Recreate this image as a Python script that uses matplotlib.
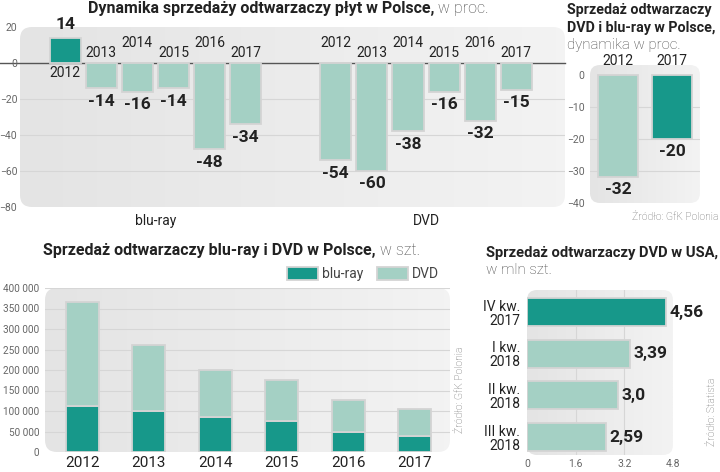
import numpy as np
import matplotlib
matplotlib.use('Agg')
from matplotlib import pyplot as plt
from matplotlib.patches import FancyBboxPatch, Patch

plt.rcParams['font.family'] = ['Roboto', 'DejaVu Sans']

# --- data ---
years = ['2012', '2013', '2014', '2015', '2016', '2017']
dyn_bluray = [14, -14, -16, -14, -48, -34]
dyn_dvd = [-54, -60, -38, -16, -32, -15]

dyn2_years = ['2012', '2017']
dyn2_values = [-32, -20]

sales_bluray = [112000, 100000, 85000, 76000, 50000, 38000]
sales_total = [366000, 260000, 201000, 175000, 128000, 106000]
sales_dvd = [t - b for t, b in zip(sales_total, sales_bluray)]

usa_labels = ['IV kw.\n2017', 'I kw.\n2018', 'II kw.\n2018', 'III kw.\n2018']
usa_values = [4.56, 3.39, 3.0, 2.59]
usa_text = ['4,56', '3,39', '3,0', '2,59']

DARK = '#17988a'
LIGHT = '#a4d0c4'
EDGE = '#d4d4d4'
TXT = '#222222'
TICK = '#666666'
W, H = 720, 472

fig = plt.figure(figsize=(7.2, 4.72), dpi=100)
fig.patch.set_facecolor('white')


def px_axes(x0, y0, x1, y1):
    return fig.add_axes([x0 / W, 1 - y1 / H, (x1 - x0) / W, (y1 - y0) / H])


def background(ax, wpx, hpx, r=12):
    # rounded grey box with a soft gradient
    box = FancyBboxPatch((0, 0), 1, 1, boxstyle='round,pad=0,rounding_size=%f' % (r / wpx),
                         mutation_aspect=wpx / hpx, transform=ax.transAxes,
                         facecolor='none', edgecolor='none', zorder=0)
    ax.add_patch(box)
    grad = np.linspace(0.0, 1.0, 64).reshape(1, -1)
    cm = matplotlib.colors.LinearSegmentedColormap.from_list('g', ['#e4e4e4', '#f3f3f3'])
    img = ax.imshow(grad, extent=(0, 1, 0, 1), transform=ax.transAxes, aspect='auto',
                    cmap=cm, zorder=0)
    img.set_clip_path(box)
    ax.set_facecolor('none')
    for s in ax.spines.values():
        s.set_visible(False)


def title2(x, y, bold, rest, size=11.5):
    t = fig.text(x / W, 1 - y / H, bold, fontsize=size, fontweight='bold', color=TXT,
                 ha='left', va='center')
    fig.canvas.draw()
    bb = t.get_window_extent()
    fig.text(bb.x1 / (fig.dpi * 7.2), 1 - y / H, rest, fontsize=size,
             color='#444444', ha='left', va='center', fontweight='light')


# ---------- top: dynamics ----------
ax1 = px_axes(20, 27, 565, 207)
background(ax1, 545, 180)
xb = np.arange(6)
xd = np.arange(6) + 7.5
ax1.set_xlim(-1.25, 13.85)
ax1.set_ylim(-80, 20)
for g in [-20, -40, -60]:
    ax1.axhline(g, color='#d6d6d6', lw=0.8, zorder=1)
ax1.axhline(0, color='#555555', lw=1.0, zorder=1, xmin=-0.04, clip_on=False)
cols_b = [DARK if v > 0 else LIGHT for v in dyn_bluray]
ax1.bar(xb, dyn_bluray, width=0.86, color=cols_b, edgecolor=EDGE, lw=1.3, zorder=2)
ax1.bar(xd, dyn_dvd, width=0.86, color=LIGHT, edgecolor=EDGE, lw=1.3, zorder=2)
for xs, vals in [(xb, dyn_bluray), (xd, dyn_dvd)]:
    for i, (x, v) in enumerate(zip(xs, vals)):
        if v > 0:
            ax1.text(x, v + 3, str(v), ha='center', va='bottom', fontsize=12.5,
                     fontweight='bold', color=TXT, zorder=3, clip_on=False)
            ax1.text(x, -5.5, years[i], ha='center', va='center', fontsize=10, color=TXT, zorder=3)
        else:
            ax1.text(x, v - 3, str(v), ha='center', va='top', fontsize=12.5,
                     fontweight='bold', color=TXT, zorder=3)
            yy = 11 if i % 2 == 0 else 5.5
            ax1.text(x, yy, years[i], ha='center', va='center', fontsize=10, color=TXT, zorder=3)
ax1.set_yticks([20, 0, -20, -40, -60, -80])
ax1.tick_params(axis='y', length=0, labelsize=7.5, labelcolor=TICK, pad=2)
ax1.set_xticks([xb.mean(), xd.mean()])
ax1.set_xticklabels(['blu-ray', 'DVD'])
ax1.tick_params(axis='x', length=0, labelsize=10, labelcolor=TXT, pad=5)

title2(88, 9, 'Dynamika sprzedaży odtwarzaczy płyt w Polsce,', ' w proc.')

# ---------- top right: 2012 vs 2017 ----------
ax2 = px_axes(590, 65, 700, 203)
background(ax2, 110, 138, r=10)
x2 = np.arange(2)
ax2.set_xlim(-0.52, 1.52)
ax2.set_ylim(-40, 3.1)
for g in [-10, -20, -30]:
    ax2.axhline(g, color='#d6d6d6', lw=0.8, zorder=1)
ax2.bar(x2, dyn2_values, width=0.74, color=[LIGHT, DARK], edgecolor=EDGE, lw=1.3, zorder=2)
for x, v, yr in zip(x2, dyn2_values, dyn2_years):
    ax2.text(x, v - 1.5, str(v), ha='center', va='top', fontsize=12.5, fontweight='bold',
             color=TXT, zorder=3)
    ax2.text(x, 4.2, yr, ha='center', va='center', fontsize=10, color=TXT, clip_on=False)
ax2.set_yticks([0, -10, -20, -30, -40])
ax2.set_xticks([])
ax2.tick_params(axis='y', length=0, labelsize=7.5, labelcolor=TICK, pad=4)

fig.text(567 / W, 1 - 10 / H, 'Sprzedaż odtwarzaczy', fontsize=10.3, fontweight='bold',
         color=TXT, va='center')
fig.text(567 / W, 1 - 28 / H, 'DVD i blu-ray w Polsce,', fontsize=10.3, fontweight='bold',
         color=TXT, va='center')
fig.text(567 / W, 1 - 45 / H, 'dynamika w proc.', fontsize=10.8, color='#444444',
         va='center', fontweight='light')
fig.text(718 / W, 1 - 217 / H, 'Źródło: GfK Polonia', fontsize=7.5, color=TICK,
         ha='right', va='center', fontweight='light')

# ---------- bottom left: sales in Poland ----------
ax3 = px_axes(45, 288, 450, 452)
background(ax3, 405, 164)
x3 = np.arange(6)
ax3.set_xlim(-0.56, 5.53)
ax3.set_ylim(0, 400000)
for g in range(50000, 400001, 50000):
    ax3.axhline(g, color='#d6d6d6', lw=0.8, zorder=1)
ax3.bar(x3, sales_bluray, width=0.5, color=DARK, edgecolor=EDGE, lw=1.3, zorder=2, label='blu-ray')
ax3.bar(x3, sales_dvd, bottom=sales_bluray, width=0.5, color=LIGHT, edgecolor=EDGE, lw=1.3,
        zorder=2, label='DVD')
ax3.set_yticks(range(0, 400001, 50000))
ax3.set_yticklabels(['{:,}'.format(v).replace(',', ' ') for v in range(0, 400001, 50000)])
ax3.tick_params(axis='y', length=0, labelsize=7.2, labelcolor=TICK, pad=4)
ax3.set_xticks(x3)
ax3.set_xticklabels(years)
ax3.tick_params(axis='x', length=0, labelsize=11, labelcolor=TXT, pad=3)
handles = [Patch(facecolor=DARK, edgecolor=EDGE, lw=1.3, label='blu-ray'),
           Patch(facecolor=LIGHT, edgecolor=EDGE, lw=1.3, label='DVD')]
ax3.legend(handles=handles, loc='lower right', bbox_to_anchor=(0.99, 1.0), ncol=2,
           frameon=False, fontsize=10, handlelength=2.2, handleheight=1.1,
           handletextpad=0.3, columnspacing=1.0, borderaxespad=0.1, labelcolor='#444444')

title2(43, 250, 'Sprzedaż odtwarzaczy blu-ray i DVD w Polsce,', ' w szt.')
fig.text(460 / W, 1 - 390 / H, 'Źródło: GfK Polonia', fontsize=7.5, color=TICK,
         rotation=90, ha='center', va='center', fontweight='light')

# ---------- bottom right: USA ----------
ax4 = px_axes(527, 290, 673, 455)
background(ax4, 146, 165, r=10)
y4 = np.arange(4)
ax4.set_xlim(0, 4.8)
ax4.set_ylim(3.43, -0.53)
for g in [1.6, 3.2]:
    ax4.axvline(g, color='#d6d6d6', lw=0.8, zorder=1)
ax4.barh(y4, usa_values, height=0.67, color=[DARK, LIGHT, LIGHT, LIGHT], edgecolor=EDGE,
         lw=1.3, zorder=2)
for y, v, t in zip(y4, usa_values, usa_text):
    ax4.text(v + 0.12, y, t, ha='left', va='center', fontsize=12.5, fontweight='bold',
             color=TXT, clip_on=False)
ax4.set_yticks(y4)
ax4.set_yticklabels(usa_labels, linespacing=1.0)
ax4.tick_params(axis='y', length=0, labelsize=10, labelcolor=TXT, pad=5)
ax4.set_xticks([0, 1.6, 3.2, 4.8])
ax4.set_xticklabels(['0', '1.6', '3.2', '4.8'])
ax4.tick_params(axis='x', length=0, labelsize=7.5, labelcolor=TICK, pad=3)

fig.text(486 / W, 1 - 253 / H, 'Sprzedaż odtwarzaczy DVD w USA,', fontsize=10.6,
         fontweight='bold', color=TXT, va='center')
fig.text(486 / W, 1 - 270 / H, 'w mln szt.', fontsize=10.8, color='#444444',
         va='center', fontweight='light')
fig.text(712 / W, 1 - 412 / H, 'Źródło: Statista', fontsize=7.5, color=TICK,
         rotation=90, ha='center', va='center', fontweight='light')

fig.savefig('out.png', dpi=100)
